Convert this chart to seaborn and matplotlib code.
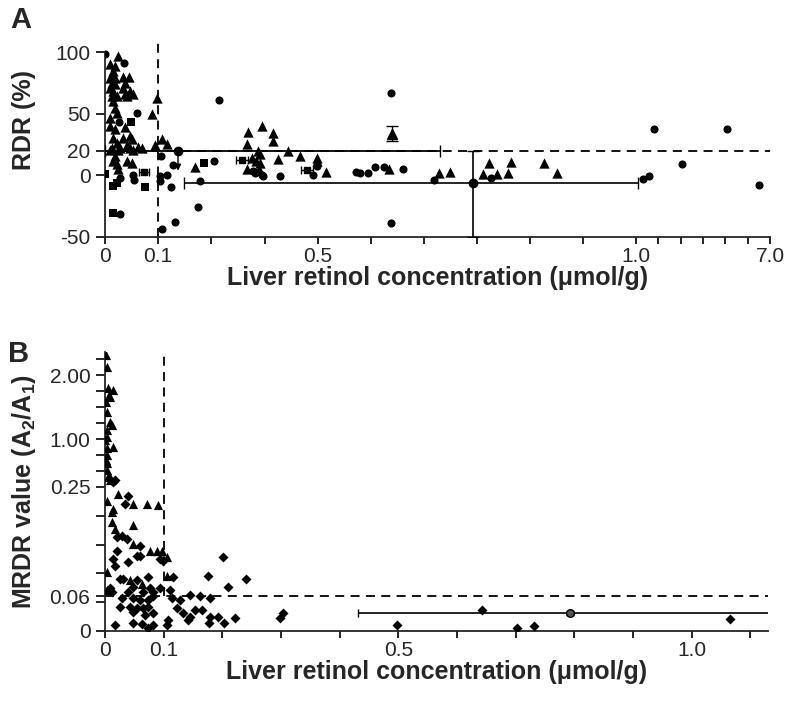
import numpy as np
import matplotlib
matplotlib.use("Agg")
import matplotlib.pyplot as plt
from matplotlib.ticker import NullFormatter
import seaborn as sns

# ---------------- Panel A data: liver retinol (umol/g) vs RDR (%) ----------------
a_circle_x = [0.0, 0.036, 0.060, 0.253, 0.026, 0.1075, 0.028, 0.053, 0.055, 0.1375,
              0.1225, 0.1325, 0.105, 0.105, 0.24, 0.205, 0.20, 0.1425, 0.11, 0.028,
              0.3375, 0.3425, 0.36, 0.3625, 0.405, 0.4975, 0.4875, 0.56, 0.566, 0.579,
              0.59, 0.604, 0.634, 0.615, 0.615, 0.682, 0.772, 1.31, 1.58, 1.81,
              3.06, 5.07, 6.5]
a_circle_y = [98.5, 91, 50.7, 61.2, 43.4, 15.8, -2, 0.4, -3.6, 8.5,
              0.4, -9.3, -0.4, -4.5, 11.8, -4.5, -25.5, -37.7, -43.4, -31.2,
              3.6, 2, 0.4, -0.4, -0.4, 7.7, 0.4, 2.8, 2, 2,
              6.9, 6.9, 5.3, 66.9, -38.5, -3.6, -2, -2.8, -0.4, 37.7,
              9.3, 37.7, -7.7]

a_tri_x = [0.0245, 0.0094, 0.0189, 0.015, 0.013, 0.0094, 0.019, 0.013, 0.019, 0.0094,
           0.015, 0.013, 0.0226, 0.034, 0.045, 0.038, 0.034, 0.047, 0.053, 0.0415,
           0.098, 0.0887, 0.019, 0.0226, 0.0094, 0.0094, 0.019, 0.038, 0.015, 0.034,
           0.047, 0.051, 0.0226, 0.013, 0.028, 0.0415, 0.047, 0.0094, 0.0245, 0.053,
           0.062, 0.07, 0.094, 0.11, 0.1225, 0.019, 0.015, 0.0226, 0.0415, 0.051,
           0.0245, 0.1925, 0.325, 0.36, 0.3875, 0.3875, 0.3225, 0.35, 0.355, 0.335,
           0.345, 0.355, 0.3225, 0.3525, 0.40, 0.425, 0.455, 0.4975, 0.4975, 0.5126,
           0.611, 0.69, 0.707, 0.769, 0.804, 0.76, 0.781, 0.798, 0.855, 0.876,
           0.015, 0.038]
a_tri_y = [96.9, 90.4, 88.8, 84.7, 82.3, 79, 79, 75, 74.2, 71,
           68.5, 64.5, 64.5, 79.9, 79.9, 75, 71, 68.5, 66, 64.5,
           62.9, 49.9, 54.7, 50.7, 46.6, 40.1, 37.7, 39.3, 30.4, 30.4,
           32, 29.6, 26.4, 22.3, 22.3, 24.7, 22.3, 20.7, 20.7, 20.7,
           23.1, 22.3, 24.7, 29.6, 25.5, 15.8, 11.8, 9.3, 11.8, 10.1,
           5.3, 6.9, 35.3, 40.1, 34.5, 28, 25.5, 19.9, 17.4, 14.2,
           11.8, 10.1, 5.3, 5.3, 13.4, 19.9, 15.8, 14.2, 11.8, 2.8,
           5.3, 2, 2.8, 10.1, 10.9, 1.2, 1.2, 2, 10.1, 2,
           60.4, 66]

a_sq_x = [0.0, 0.049, 0.015, 0.0226, 0.015, 0.0755, 0.215]
a_sq_y = [1, 43.4, -8.5, -6.1, -30.4, -9.3, 10.1]

# squares with small horizontal error bars
a_sqerr_x = [0.0736, 0.31, 0.4725]
a_sqerr_y = [2.8, 12.6, 4.5]
a_sqerr_dx = [0.009, 0.015, 0.015]

# summary points with error bars
a_tri_err = (0.616, 33.7, 6)
a_arrow_pt = (0.15, 19.8, 0.15, 0.542)
a_mean_pt = (0.744, -6.1, 0.58, 0.35, 43.9, 26.1)

# ---------------- Panel B data: liver retinol vs MRDR value ----------------
b_tri_x = [0.0017, 0.0034, 0.0051, 0.0136, 0.0085, 0.0017, 0.0034, 0.0085, 0.012, 0.0034,
           0.0034, 0.0136, 0.0034, 0.0034, 0.0034, 0.0034, 0.0051, 0.0085, 0.0068, 0.0,
           0.0017, 0.0068,
           0.022, 0.0034, 0.048, 0.072, 0.090, 0.0136, 0.012, 0.012, 0.017, 0.048,
           0.048, 0.077, 0.089, 0.097, 0.106, 0.0034, 0.106, 0.0034, 0.043, 0.063]
b_tri_y = [2.31, 2.13, 1.80, 1.77, 1.66, 1.58, 1.42, 1.27, 1.22, 1.14,
           1.03, 0.875, 0.86, 0.75, 0.625, 0.52, 0.41, 0.36, 1.69, 0.98,
           0.67, 0.44,
           0.237, 0.225, 0.221, 0.221, 0.219, 0.212, 0.207, 0.189, 0.177, 0.184,
           0.151, 0.139, 0.139, 0.139, 0.128, 0.102, 0.096, 0.072, 0.089, 0.081]

b_dia_x = [0.017, 0.0136, 0.039, 0.034, 0.020, 0.029, 0.037, 0.060, 0.055, 0.060,
           0.020, 0.014, 0.017, 0.039, 0.094, 0.099, 0.201, 0.175, 0.240, 0.210,
           0.116, 0.026, 0.031, 0.055, 0.073, 0.048, 0.077, 0.082, 0.065, 0.039,
           0.0085, 0.012, 0.094, 0.111, 0.060, 0.073, 0.082, 0.029, 0.048, 0.114,
           0.128, 0.145, 0.162, 0.179, 0.026, 0.043, 0.055, 0.065, 0.073, 0.123,
           0.082, 0.048, 0.068, 0.133, 0.145, 0.141, 0.153, 0.165, 0.179, 0.193,
           0.221, 0.298, 0.303, 0.017, 0.048, 0.063, 0.082, 0.106, 0.073, 0.107,
           0.177, 0.203, 0.497, 0.642, 0.702, 0.731, 1.065]
b_dia_y = [0.36, 0.33, 0.235, 0.221, 0.163, 0.165, 0.160, 0.147, 0.130, 0.130,
           0.139, 0.125, 0.112, 0.119, 0.125, 0.121, 0.128, 0.095, 0.091, 0.077,
           0.093, 0.091, 0.091, 0.089, 0.093, 0.077, 0.075, 0.067, 0.067, 0.068,
           0.075, 0.068, 0.075, 0.072, 0.054, 0.054, 0.060, 0.058, 0.058, 0.058,
           0.054, 0.063, 0.060, 0.058, 0.042, 0.042, 0.040, 0.040, 0.042, 0.040,
           0.032, 0.033, 0.028, 0.032, 0.025, 0.019, 0.037, 0.037, 0.025, 0.025,
           0.023, 0.023, 0.032, 0.011, 0.014, 0.012, 0.011, 0.011, 0.005, 0.019,
           0.014, 0.014, 0.011, 0.037, 0.005, 0.009, 0.021]

b_mean_pt = (0.792, 0.031, 0.361, 0.36)

a_xticks = [0, 0.1, 0.5, 1.0, 7.0]
a_xticklabels = ["0", "0.1", "0.5", "1.0", "7.0"]
a_xminor = [0.2333, 0.3667, 0.5833, 0.6667, 0.75, 0.8333, 0.9167, 2, 3, 4, 5, 6]
a_yticks = [-50, 0, 20, 50, 100]
b_xticks = [0, 0.1, 0.5, 1.0]
b_xticklabels = ["0", "0.1", "0.5", "1.0"]
b_xminor = [0.2, 0.3, 0.4, 0.6, 0.7, 0.8, 0.9, 1.1]
b_yticks = [0, 0.06, 0.25, 1.0, 2.0]
b_yticklabels = ["0", "0.06", "0.25", "1.00", "2.00"]
b_yminor = [0.05, 0.10, 0.15, 0.20, 0.5, 0.75, 1.25, 1.5, 1.75, 2.25]

# broken-axis style scales (piecewise linear)
A_XK = [-1, 0, 0.1, 0.5, 1.0, 7.0, 20.0]
A_PK = [-530, 0, 53, 213, 531, 665, 665 + 13 * 134 / 6]
B_YK = [-1, 0, 0.25, 2.36, 10]
B_PK = [-576, 0, 144, 279, 279 + 7.64 * 64]


def fwd_a(x):
    return np.interp(x, A_XK, A_PK)


def inv_a(p):
    return np.interp(p, A_PK, A_XK)


def fwd_b(y):
    return np.interp(y, B_YK, B_PK)


def inv_b(p):
    return np.interp(p, B_PK, B_YK)


sns.set_style("ticks")
plt.rcParams["font.family"] = ["Liberation Sans", "DejaVu Sans"]
plt.rcParams["mathtext.fontset"] = "custom"
plt.rcParams["mathtext.rm"] = "Liberation Sans"
plt.rcParams["mathtext.bf"] = "Liberation Sans:bold"
plt.rcParams["axes.unicode_minus"] = False

TICK_FS = 15
LABEL_FS = 18
DASH = (0, (5, 3.5))

fig = plt.figure(figsize=(7.89, 7.04), dpi=100)
ax_a = fig.add_axes([105 / 789, 1 - 237 / 704, 665 / 789, 199 / 704])
ax_b = fig.add_axes([105 / 789, 1 - 631 / 704, 663 / 789, 279 / 704])

# ---------------- Panel A ----------------
ax = ax_a
ax.set_xscale("function", functions=(fwd_a, inv_a))
ax.set_xlim(0, 7.0)
ax.set_ylim(-50, 111.4)

ax.axhline(20, color="black", lw=1.3, ls=DASH, zorder=1)
ax.axvline(0.1, color="black", lw=1.3, ls=DASH, zorder=1)

sns.scatterplot(x=a_circle_x, y=a_circle_y, marker="o", color="black", s=34,
                linewidth=0, ax=ax, zorder=3)
sns.scatterplot(x=a_tri_x, y=a_tri_y, marker="^", color="black", s=55,
                linewidth=0, ax=ax, zorder=3)
sns.scatterplot(x=a_sq_x, y=a_sq_y, marker="s", color="black", s=26,
                linewidth=0, ax=ax, zorder=3)
ax.errorbar(a_sqerr_x, a_sqerr_y, xerr=a_sqerr_dx, fmt="s", color="black",
            ms=4.5, lw=1, capsize=3, zorder=3)

tx, ty, tdy = a_tri_err
ax.errorbar([tx], [ty], yerr=[tdy], fmt="^", color="black", ms=7, lw=1,
            capsize=4, zorder=3)

px, py, pxl, pxh = a_arrow_pt
ax.errorbar([px], [py], xerr=[[pxl], [pxh]], fmt="o", color="black", ms=6,
            lw=1.3, capsize=4, zorder=3)
ax.annotate("", xy=(px, 1.5), xytext=(px, py),
            arrowprops=dict(arrowstyle="-|>", color="black", lw=1,
                            mutation_scale=9))

mx, my, mxl, mxh, myl, myh = a_mean_pt
ax.errorbar([mx], [my], xerr=[[mxl], [mxh]], yerr=[[myl], [myh]], fmt="o",
            color="black", ms=6, lw=1.2, capsize=4, zorder=3)

ax.set_xticks(a_xticks)
ax.set_xticklabels(a_xticklabels)
ax.set_xticks(a_xminor, minor=True)
ax.xaxis.set_minor_formatter(NullFormatter())
ax.set_yticks(a_yticks)
ax.spines["left"].set_bounds(-50, 100)
ax.set_xlabel("Liver retinol concentration (μmol/g)", fontsize=LABEL_FS,
              fontweight="bold", labelpad=0)
ax.set_ylabel("RDR (%)", fontsize=LABEL_FS, fontweight="bold")
ax.yaxis.set_label_coords(-0.104, 0.59)

# ---------------- Panel B ----------------
ax = ax_b
ax.set_yscale("function", functions=(fwd_b, inv_b))
ax.set_xlim(0, 1.13)
ax.set_ylim(0, 2.36)

ax.axhline(0.06, color="black", lw=1.3, ls=DASH, zorder=1)
ax.plot([0.1, 0.1], [0.06, 2.36], color="black", lw=1.3, ls=DASH, zorder=1)

sns.scatterplot(x=b_tri_x, y=b_tri_y, marker="^", color="black", s=44,
                linewidth=0, ax=ax, zorder=3)
sns.scatterplot(x=b_dia_x, y=b_dia_y, marker="D", color="black", s=26,
                linewidth=0, ax=ax, zorder=3)
bx, by, bxl, bxh = b_mean_pt
ax.errorbar([bx], [by], xerr=[[bxl], [bxh]], yerr=[[0.004], [0.004]], fmt="o",
            color="black", mfc="#555555", ms=5.5, lw=1.2, capsize=3, zorder=3)

ax.set_xticks(b_xticks)
ax.set_xticklabels(b_xticklabels)
ax.set_xticks(b_xminor, minor=True)
ax.set_yticks(b_yticks)
ax.set_yticklabels(b_yticklabels)
ax.set_yticks(b_yminor, minor=True)
ax.xaxis.set_minor_formatter(NullFormatter())
ax.yaxis.set_minor_formatter(NullFormatter())
ax.set_xlabel("Liver retinol concentration (μmol/g)", fontsize=LABEL_FS,
              fontweight="bold", labelpad=0)
ax.set_ylabel(r"MRDR value (A$_\mathbf{2}$/A$_\mathbf{1}$)", fontsize=LABEL_FS,
              fontweight="bold")
ax.yaxis.set_label_coords(-0.101, 0.5)

for ax in (ax_a, ax_b):
    sns.despine(ax=ax)
    ax.spines["left"].set_linewidth(1.3)
    ax.spines["bottom"].set_linewidth(1.3)
    ax.tick_params(axis="x", which="both", direction="out", length=5, width=1.2,
                   labelsize=TICK_FS, pad=2, color="black")
    ax.tick_params(axis="y", which="both", direction="out", length=6.5, width=1.2,
                   labelsize=TICK_FS, pad=4, color="black")
    ax.set_facecolor("white")

fig.text(10 / 789, 1 - 28 / 704, "A", fontsize=21, fontweight="bold")
fig.text(8 / 789, 1 - 362 / 704, "B", fontsize=21, fontweight="bold")

fig.savefig("out.png", dpi=100, facecolor="white")
